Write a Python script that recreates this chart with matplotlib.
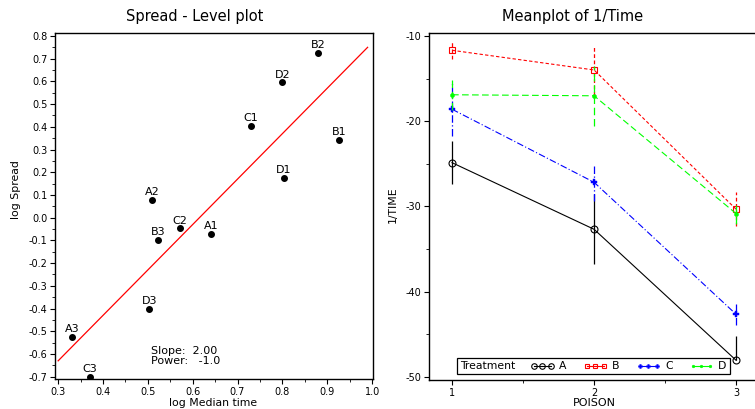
"""
Spread-level plot and mean plot of 1/Time by poison and treatment
"""

import numpy as np
import matplotlib
matplotlib.use('Agg')
import matplotlib.pyplot as plt
from matplotlib.lines import Line2D
from matplotlib.offsetbox import HPacker
from matplotlib.ticker import MultipleLocator

plt.rcParams['font.family'] = ['DejaVu Sans']
plt.rcParams['axes.unicode_minus'] = False

# ---- Spread - Level data ----
cell_labels = ['A1', 'A2', 'A3', 'B1', 'B2', 'B3', 'C1', 'C2', 'C3', 'D1', 'D2', 'D3']
log_median = [0.641, 0.510, 0.332, 0.926, 0.880, 0.523, 0.730, 0.572, 0.370, 0.803, 0.800, 0.503]
log_spread = [-0.072, 0.078, -0.525, 0.342, 0.724, -0.099, 0.405, -0.047, -0.700, 0.174, 0.596, -0.400]
fit_slope = 2.00
fit_intercept = -1.23
fit_range = [0.30, 0.99]
power = -1.0

# ---- Meanplot data ----
poison = [1, 2, 3]
treatments = ['A', 'B', 'C', 'D']
mean_inv_time = {
    'A': [-24.87, -32.69, -48.07],
    'B': [-11.68, -13.99, -30.34],
    'C': [-18.60, -27.17, -42.67],
    'D': [-16.90, -17.02, -30.85],
}
err_low = {
    'A': [2.5, 4.1, 0.0],
    'B': [1.0, 2.9, 2.0],
    'C': [3.1, 2.2, 1.25],
    'D': [1.8, 3.5, 1.25],
}
err_high = {
    'A': [2.5, 4.1, 2.8],
    'B': [1.0, 2.9, 2.0],
    'C': [3.1, 2.2, 1.25],
    'D': [1.8, 3.5, 1.25],
}

styles = {
    'A': dict(color='black', ls='-', marker='o', ms=5, mfc='none', mew=0.8),
    'B': dict(color='red', ls=(0, (3, 2)), marker='s', ms=4, mfc='none', mew=0.8),
    'C': dict(color='blue', ls=(0, (6, 2, 1, 2)), marker='P', ms=4, mfc='blue', mew=0.3),
    'D': dict(color='lime', ls=(0, (6, 3)), marker='o', ms=3, mfc='lime', mew=0.3),
}

fig = plt.figure(figsize=(7.55, 4.09), dpi=100)
W, H = 755, 409
tick_fs = 7.0

# ===== Left: Spread - Level plot =====
ax1 = fig.add_axes([55 / W, (H - 379) / H, 318 / W, 346 / H])
ax1.plot(log_median, log_spread, 'o', color='black', ms=4)
for lab, x, y in zip(cell_labels, log_median, log_spread):
    ax1.annotate(lab, (x, y), xytext=(0, 2), textcoords='offset points',
                 ha='center', va='bottom', fontsize=8)
fx = np.array(fit_range)
ax1.plot(fx, fit_slope * fx + fit_intercept, color='red', lw=0.9)
ax1.text(0.507, -0.565, f'Slope:  {fit_slope:.2f}\nPower:   {power:.1f}',
         fontsize=8, ha='left', va='top', linespacing=0.95)
ax1.set_xlim(0.293, 1.002)
ax1.set_ylim(-0.71, 0.813)
ax1.xaxis.set_major_locator(MultipleLocator(0.1))
ax1.xaxis.set_minor_locator(MultipleLocator(0.05))
ax1.yaxis.set_major_locator(MultipleLocator(0.1))
ax1.yaxis.set_minor_locator(MultipleLocator(0.05))
ax1.xaxis.set_major_formatter(plt.FormatStrFormatter('%.1f'))
ax1.yaxis.set_major_formatter(plt.FormatStrFormatter('%.1f'))
ax1.tick_params(which='major', length=3.5, width=0.8, labelsize=tick_fs, pad=2)
ax1.tick_params(which='minor', length=2, width=0.6)
for s in ax1.spines.values():
    s.set_linewidth(1.0)

fig.text(195 / W, 1 - 16 / H, 'Spread - Level plot', ha='center', va='center', fontsize=10.5)
fig.text(213 / W, 1 - 403 / H, 'log Median time', ha='center', va='center', fontsize=7.8)
fig.text(16 / W, 1 - 190 / H, 'log Spread', ha='center', va='center', fontsize=7.8,
         rotation=90)

# ===== Right: Meanplot of 1/Time =====
ax2 = fig.add_axes([429.3 / W, (H - 380) / H, 1 - 429.3 / W, 347 / H])
handles = []
for t in treatments:
    st = styles[t]
    m = np.array(mean_inv_time[t])
    ax2.vlines(poison, m - np.array(err_low[t]), m + np.array(err_high[t]),
               colors=st['color'], linestyles=[st['ls']], linewidth=0.9)
    ax2.plot(poison, m, color=st['color'], ls=st['ls'], lw=0.8,
             marker=st['marker'], ms=st['ms'], mfc=st['mfc'],
             mec=st['color'], mew=st['mew'])
    handles.append(Line2D([], [], color=st['color'], ls='-', lw=0.8,
                          marker=st['marker'], ms=st['ms'] - 1, mfc=st['mfc'],
                          mec=st['color'], mew=st['mew']))

ax2.set_xlim(0.84, 3.133)
ax2.set_ylim(-50.38, -9.65)
ax2.xaxis.set_major_locator(MultipleLocator(1))
ax2.xaxis.set_minor_locator(MultipleLocator(0.5))
ax2.yaxis.set_major_locator(MultipleLocator(10))
ax2.yaxis.set_minor_locator(MultipleLocator(5))
ax2.tick_params(which='major', length=3.5, width=0.8, labelsize=tick_fs, pad=2)
ax2.tick_params(which='minor', length=2, width=0.6)
ax2.spines['right'].set_visible(False)
for s in ['left', 'top', 'bottom']:
    ax2.spines[s].set_linewidth(1.0)

fs = 7.8
leg = ax2.legend(handles, treatments, title='Treatment', ncol=4, numpoints=3,
                 loc='lower left', bbox_to_anchor=(0.085, 0.016), borderaxespad=0,
                 fontsize=fs, title_fontsize=fs, handlelength=2.2, handletextpad=0.45,
                 columnspacing=1.55, borderpad=0.2, fancybox=False,
                 edgecolor='black', framealpha=1)
leg.get_frame().set_linewidth(0.9)
# put the title to the left of the entries, on one row
box = HPacker(pad=2.2, sep=1.4 * fs, align='center',
              children=[leg._legend_title_box, leg._legend_handle_box])
box.set_figure(fig)
box.axes = ax2
leg._legend_box = box
leg._legend_box.set_offset(leg._findoffset)

fig.text(572.7 / W, 1 - 16 / H, 'Meanplot of 1/Time', ha='center', va='center', fontsize=10.5)
fig.text(594 / W, 1 - 403 / H, 'POISON', ha='center', va='center', fontsize=8)
fig.text(393 / W, 1 - 205 / H, '1/TIME', ha='center', va='center', fontsize=7.8,
         rotation=90)

fig.savefig('out.png', dpi=100)
